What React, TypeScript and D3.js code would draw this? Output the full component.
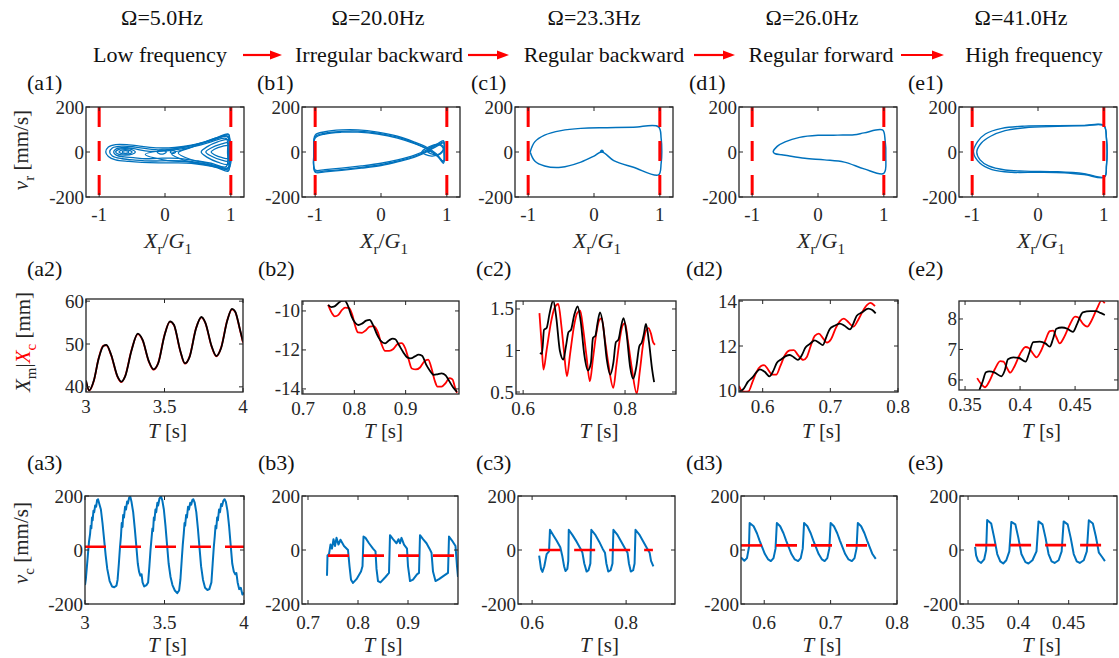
import React from 'react';
import * as d3 from 'd3';

type Pt = [number, number];

// ---------------- header text ----------------
const freqLabels = ['Ω=5.0Hz', 'Ω=20.0Hz', 'Ω=23.3Hz', 'Ω=26.0Hz', 'Ω=41.0Hz'];
const regimeLabels = ['Low frequency', 'Irregular backward', 'Regular backward', 'Regular forward', 'High frequency'];
const panelLetters = ['a', 'b', 'c', 'd', 'e'];

// ---------------- row 1: phase portraits (X_r/G_1, v_r) ----------------
const phaseXTicks = [-1, 0, 1];
const velTicks = [-200, 0, 200];
const clearanceLines = [-1, 1];

const a1Loop1: Pt[] = [[-0.9,0],[-0.86,22],[-0.75,33],[-0.55,32],[-0.35,25],[-0.1,18],[0.15,20],[0.4,30],[0.6,45],[0.8,65],[0.96,80],[0.98,30],[0.98,-30],[0.96,-85],[0.8,-70],[0.6,-58],[0.4,-50],[0.15,-48],[-0.1,-48],[-0.35,-46],[-0.55,-42],[-0.75,-35],[-0.86,-20]];
const a1Loop2: Pt[] = [[-0.84,0],[-0.8,18],[-0.65,26],[-0.45,22],[-0.2,12],[0.05,10],[0.3,22],[0.55,38],[0.75,55],[0.95,70],[0.97,0],[0.95,-75],[0.75,-62],[0.55,-50],[0.3,-40],[0.05,-38],[-0.2,-40],[-0.45,-36],[-0.65,-30],[-0.8,-18]];
const a1Loop3: Pt[] = [[-0.78,0],[-0.74,14],[-0.62,20],[-0.48,15],[-0.3,5],[-0.1,3],[0.2,12],[0.5,28],[0.7,45],[0.93,60],[0.95,0],[0.93,-65],[0.7,-50],[0.5,-40],[0.2,-28],[-0.1,-28],[-0.3,-30],[-0.48,-25],[-0.62,-22],[-0.74,-14]];
const a1Small1: Pt[] = [[-0.75,0],[-0.7,12],[-0.6,15],[-0.5,10],[-0.45,0],[-0.5,-10],[-0.6,-14],[-0.7,-11]];
const a1Small2: Pt[] = [[-0.7,0],[-0.66,8],[-0.6,10],[-0.53,6],[-0.5,0],[-0.53,-7],[-0.6,-9],[-0.66,-7]];
const a1Small3: Pt[] = [[-0.65,0],[-0.62,5],[-0.58,5],[-0.55,0],[-0.58,-5],[-0.62,-5]];
const a1Small4: Pt[] = [[-0.12,0],[-0.08,8],[-0.02,8],[0.02,0],[-0.02,-8],[-0.08,-8]];
const a1Small5: Pt[] = [[0.08,0],[0.1,5],[0.14,5],[0.16,0],[0.14,-5],[0.1,-5]];
const a1Right1: Pt[] = [[0.55,0],[0.65,25],[0.8,45],[0.96,55],[0.97,0],[0.96,-55],[0.8,-45],[0.65,-25]];
const a1Right2: Pt[] = [[0.62,0],[0.7,18],[0.85,35],[0.96,40],[0.97,-5],[0.96,-40],[0.85,-35],[0.7,-18]];
const a1Right3: Pt[] = [[0.7,0],[0.75,12],[0.87,25],[0.97,28],[0.97,-28],[0.87,-25],[0.75,-12]];
const a1Fan1: Pt[] = [[0.1,-8],[0.3,12],[0.5,32],[0.7,55],[0.9,74],[0.97,78],[0.98,0],[0.97,-80],[0.9,-76],[0.7,-62],[0.5,-50],[0.3,-38]];
const a1Fan2: Pt[] = [[0.2,-4],[0.4,20],[0.6,42],[0.8,62],[0.96,70],[0.97,-72],[0.8,-62],[0.6,-47],[0.4,-34]];
const a1Fan3: Pt[] = [[-0.3,-10],[0,8],[0.35,25],[0.65,48],[0.95,66],[0.96,-68],[0.65,-55],[0.35,-44],[0,-36]];

const b1Loop1: Pt[] = [[-1.0,75],[-0.85,90],[-0.6,98],[-0.35,98],[-0.05,88],[0.25,70],[0.5,45],[0.7,20],[0.85,-10],[0.95,-45],[0.96,0],[0.95,50],[0.85,35],[0.7,10],[0.5,-15],[0.25,-35],[0,-50],[-0.3,-62],[-0.6,-72],[-0.85,-78],[-1.0,-80],[-1.02,0]];
const b1Loop2: Pt[] = [[-1.0,68],[-0.85,84],[-0.6,92],[-0.35,93],[-0.05,84],[0.25,66],[0.5,41],[0.7,15],[0.85,-15],[0.95,-50],[0.96,0],[0.95,45],[0.85,30],[0.7,5],[0.5,-20],[0.25,-40],[0,-56],[-0.3,-68],[-0.6,-78],[-0.85,-84],[-1.0,-86],[-1.02,0]];
const b1Loop3: Pt[] = [[-1.0,62],[-0.85,80],[-0.6,88],[-0.35,88],[-0.05,80],[0.25,62],[0.5,38],[0.7,12],[0.85,-18],[0.95,-40],[0.96,0],[0.95,40],[0.85,26],[0.7,2],[0.5,-24],[0.25,-44],[0,-60],[-0.3,-72],[-0.6,-82],[-0.85,-88],[-1.0,-90],[-1.02,0]];
const b1Curl1: Pt[] = [[0.62,0],[0.72,22],[0.88,35],[0.95,20],[0.9,-5],[0.78,-18],[0.68,-12]];
const b1Curl2: Pt[] = [[0.7,5],[0.78,25],[0.9,30],[0.95,10],[0.88,-12],[0.78,-10]];

const c1Curve: Pt[] = [[-0.97,0],[-0.9,45],[-0.75,75],[-0.5,95],[-0.2,105],[0.2,108],[0.6,110],[0.98,112],[1.02,60],[1.03,0],[1.02,-50],[0.98,-102],[0.6,-68],[0.3,-38],[0.12,0],[0.0,-18],[-0.2,-45],[-0.5,-68],[-0.75,-62],[-0.9,-40],[-0.97,0]];
const c1Dot: Pt[] = [[0.1,2],[0.12,8],[0.14,2]];

const d1Curve: Pt[] = [[-0.68,0],[-0.62,25],[-0.5,45],[-0.28,65],[0,74],[0.3,75],[0.55,77],[0.7,85],[0.98,98],[1.02,50],[1.03,-20],[1.0,-95],[0.7,-75],[0.4,-45],[0.1,-35],[-0.2,-28],[-0.45,-17],[-0.55,-12],[-0.65,-8]];

const e1Loop1: Pt[] = [[-0.98,0],[-0.92,45],[-0.8,80],[-0.55,105],[-0.2,115],[0.3,117],[0.7,118],[1.0,118],[1.04,60],[1.05,0],[1.04,-60],[1.01,-112],[0.7,-100],[0.4,-92],[0,-90],[-0.4,-90],[-0.7,-78],[-0.88,-50]];
const e1Loop2: Pt[] = [[-0.93,0],[-0.86,40],[-0.72,70],[-0.5,95],[-0.2,108],[0.3,114],[0.7,117],[1.0,117],[1.04,60],[1.05,0],[1.04,-60],[1.01,-110],[0.7,-96],[0.3,-88],[-0.2,-85],[-0.5,-80],[-0.75,-62],[-0.88,-35]];

// ---------------- row 2: displacement (T, X_m black / X_c red) ----------------
const a2Ticks = { x: [3, 3.5, 4], y: [40, 50, 60] };
const a2Black: Pt[] = [[3.0,41.5],[3.02,39.2],[3.05,41.5],[3.08,46.5],[3.11,49.5],[3.13,49.8],[3.16,47.5],[3.2,42.5],[3.225,41.2],[3.25,42.5],[3.29,48.5],[3.33,52.4],[3.36,51],[3.4,46],[3.43,44.1],[3.46,45.5],[3.5,52],[3.535,55.3],[3.56,54.5],[3.6,48.5],[3.63,45.5],[3.66,47],[3.7,53.5],[3.735,56.3],[3.76,55],[3.8,49.5],[3.83,47.2],[3.86,49],[3.9,55.5],[3.93,58.2],[3.95,57.6],[3.98,53.5],[4.0,50.5]];
const a2Red: Pt[] = [[3.0,41.3],[3.02,39.1],[3.05,41.4],[3.08,46.6],[3.11,49.6],[3.13,49.7],[3.16,47.4],[3.2,42.4],[3.225,41.1],[3.25,42.6],[3.29,48.6],[3.33,52.3],[3.36,50.9],[3.4,45.9],[3.43,44.0],[3.46,45.6],[3.5,52.1],[3.535,55.2],[3.56,54.4],[3.6,48.4],[3.63,45.4],[3.66,47.1],[3.7,53.6],[3.735,56.2],[3.76,54.9],[3.8,49.4],[3.83,47.1],[3.86,49.1],[3.9,55.6],[3.93,58.1],[3.95,57.5],[3.98,53.4],[4.0,50.3]];

const b2Ticks = { x: [0.7, 0.8, 0.9], y: [-14, -12, -10] };
const b2Black: Pt[] = [[0.749,-9.69],[0.755,-9.8],[0.76,-9.78],[0.768,-9.62],[0.775,-9.48],[0.781,-9.47],[0.787,-9.7],[0.795,-10.3],[0.802,-10.62],[0.808,-10.72],[0.815,-10.65],[0.823,-10.5],[0.83,-10.46],[0.836,-10.7],[0.845,-11.25],[0.852,-11.55],[0.86,-11.66],[0.868,-11.5],[0.875,-11.42],[0.88,-11.45],[0.887,-11.75],[0.895,-12.1],[0.903,-12.38],[0.91,-12.43],[0.918,-12.33],[0.925,-12.24],[0.932,-12.3],[0.94,-12.75],[0.947,-13.05],[0.955,-13.28],[0.962,-13.25],[0.97,-13.2],[0.978,-13.3],[0.985,-13.6],[0.992,-13.9],[1.0,-14.15]];
const b2Red: Pt[] = [[0.749,-9.69],[0.756,-10.1],[0.762,-10.28],[0.769,-10.2],[0.776,-9.95],[0.782,-9.83],[0.79,-9.85],[0.796,-10.2],[0.802,-10.8],[0.807,-11.1],[0.815,-11.12],[0.822,-11.0],[0.83,-10.8],[0.838,-10.78],[0.846,-11.1],[0.853,-11.7],[0.86,-12.05],[0.868,-12.05],[0.876,-11.95],[0.884,-11.7],[0.892,-11.65],[0.899,-11.9],[0.906,-12.5],[0.912,-12.95],[0.92,-13.0],[0.928,-12.9],[0.936,-12.6],[0.944,-12.5],[0.95,-12.9],[0.957,-13.6],[0.962,-13.88],[0.97,-13.88],[0.978,-13.7],[0.985,-13.45],[0.991,-13.5],[0.996,-13.9],[1.0,-14.2]];

const c2Ticks = { x: [0.6, 0.8], y: [0.5, 1, 1.5] };
const c2Black: Pt[] = [[0.633,0.97],[0.637,0.96],[0.641,1.25],[0.646,1.27],[0.652,1.45],[0.659,1.6],[0.665,1.4],[0.672,1.0],[0.679,0.89],[0.684,1.05],[0.689,1.22],[0.694,1.25],[0.7,1.42],[0.707,1.53],[0.713,1.35],[0.72,0.95],[0.727,0.76],[0.733,0.85],[0.737,1.15],[0.742,1.18],[0.746,1.33],[0.751,1.46],[0.757,1.3],[0.764,0.9],[0.771,0.71],[0.777,0.85],[0.782,1.1],[0.787,1.13],[0.792,1.28],[0.797,1.39],[0.803,1.2],[0.81,0.8],[0.816,0.66],[0.822,0.8],[0.828,1.05],[0.833,1.1],[0.837,1.2],[0.841,1.32],[0.847,1.1],[0.853,0.78],[0.857,0.62]];
const c2Red: Pt[] = [[0.632,1.45],[0.636,1.1],[0.64,0.77],[0.646,1.0],[0.655,1.35],[0.662,1.52],[0.669,1.56],[0.675,1.3],[0.68,1.0],[0.686,0.69],[0.692,0.95],[0.7,1.3],[0.706,1.45],[0.712,1.48],[0.718,1.25],[0.724,0.95],[0.731,0.63],[0.737,0.9],[0.744,1.22],[0.749,1.36],[0.754,1.39],[0.76,1.15],[0.767,0.85],[0.777,0.55],[0.783,0.82],[0.79,1.15],[0.795,1.3],[0.8,1.33],[0.806,1.1],[0.813,0.8],[0.823,0.48],[0.829,0.75],[0.836,1.1],[0.841,1.24],[0.846,1.27],[0.851,1.2],[0.855,1.1],[0.859,1.07]];

const d2Ticks = { x: [0.6, 0.7, 0.8], y: [10, 12, 14] };
const d2Black: Pt[] = [[0.566,9.97],[0.572,10.1],[0.578,10.4],[0.585,10.6],[0.59,10.8],[0.596,10.96],[0.603,10.85],[0.61,10.65],[0.615,10.85],[0.621,11.25],[0.627,11.4],[0.634,11.55],[0.64,11.6],[0.646,11.5],[0.652,11.38],[0.658,11.6],[0.663,11.92],[0.67,12.1],[0.677,12.25],[0.683,12.15],[0.689,12.04],[0.694,12.4],[0.699,12.75],[0.706,12.9],[0.714,13.0],[0.721,12.9],[0.729,12.74],[0.734,13.0],[0.739,13.35],[0.747,13.5],[0.756,13.67],[0.762,13.6],[0.767,13.45]];
const d2Red: Pt[] = [[0.565,10.22],[0.569,10.0],[0.573,9.97],[0.579,9.98],[0.585,10.4],[0.591,10.85],[0.597,11.1],[0.602,11.15],[0.608,10.95],[0.614,10.72],[0.62,10.72],[0.626,11.1],[0.633,11.6],[0.64,11.8],[0.646,11.82],[0.652,11.6],[0.66,11.38],[0.665,11.5],[0.671,12.0],[0.677,12.45],[0.683,12.55],[0.689,12.35],[0.695,12.15],[0.701,12.3],[0.708,12.8],[0.714,13.1],[0.72,13.22],[0.727,13.05],[0.734,12.86],[0.74,13.1],[0.747,13.5],[0.754,13.82],[0.759,13.92],[0.766,13.78]];

const e2Ticks = { x: [0.35, 0.4, 0.45], y: [6, 7, 8] };
const e2Black: Pt[] = [[0.363,5.67],[0.366,5.95],[0.369,6.25],[0.372,6.28],[0.377,6.24],[0.383,6.12],[0.386,6.3],[0.389,6.68],[0.394,6.74],[0.399,6.72],[0.405,6.6],[0.408,6.85],[0.412,7.24],[0.418,7.26],[0.423,7.2],[0.427,7.09],[0.43,7.35],[0.433,7.68],[0.438,7.72],[0.443,7.68],[0.448,7.58],[0.452,7.85],[0.457,8.22],[0.464,8.26],[0.469,8.26],[0.473,8.2],[0.477,8.13]];
const e2Red: Pt[] = [[0.361,6.06],[0.365,5.85],[0.368,5.76],[0.372,5.95],[0.377,6.35],[0.382,6.62],[0.385,6.6],[0.388,6.4],[0.391,6.24],[0.395,6.45],[0.4,6.85],[0.405,7.08],[0.408,7.05],[0.412,6.85],[0.415,6.74],[0.419,6.95],[0.423,7.3],[0.427,7.6],[0.43,7.62],[0.433,7.4],[0.436,7.2],[0.44,7.4],[0.445,7.8],[0.45,8.08],[0.453,8.05],[0.457,7.85],[0.461,7.75],[0.465,7.95],[0.47,8.35],[0.474,8.6],[0.477,8.52]];

// ---------------- row 3: contact velocity (T, v_c) ----------------
const a3Blue: Pt[] = [[3.0,-130],[3.005,-110],[3.015,-40],[3.025,30],[3.032,60],[3.036,90],[3.04,80],[3.044,120],[3.048,110],[3.053,145],[3.058,140],[3.064,165],[3.07,160],[3.076,185],[3.082,188],[3.088,175],[3.1,150],[3.11,100],[3.12,40],[3.13,-20],[3.14,-70],[3.155,-115],[3.17,-135],[3.184,-138],[3.198,-132],[3.205,-110],[3.213,-50],[3.22,10],[3.226,50],[3.231,100],[3.236,85],[3.24,130],[3.245,120],[3.252,160],[3.258,150],[3.265,180],[3.27,172],[3.278,195],[3.285,197],[3.292,180],[3.303,140],[3.313,80],[3.322,20],[3.332,-50],[3.34,-80],[3.348,-95],[3.356,-90],[3.362,-120],[3.372,-135],[3.387,-130],[3.397,-120],[3.405,-60],[3.412,0],[3.418,40],[3.424,80],[3.428,70],[3.433,120],[3.437,110],[3.443,150],[3.448,140],[3.455,175],[3.46,165],[3.468,190],[3.478,198],[3.486,185],[3.496,150],[3.506,90],[3.516,20],[3.526,-50],[3.538,-100],[3.55,-130],[3.565,-150],[3.58,-160],[3.592,-150],[3.6,-110],[3.608,-40],[3.615,20],[3.621,60],[3.626,100],[3.63,90],[3.636,130],[3.641,120],[3.648,160],[3.654,150],[3.662,175],[3.668,168],[3.675,185],[3.681,188],[3.69,175],[3.7,140],[3.71,80],[3.72,10],[3.73,-60],[3.742,-110],[3.755,-140],[3.77,-148],[3.782,-145],[3.795,-120],[3.803,-50],[3.81,10],[3.816,50],[3.821,90],[3.826,80],[3.831,120],[3.836,110],[3.843,150],[3.849,140],[3.856,170],[3.862,163],[3.87,182],[3.878,188],[3.886,178],[3.896,145],[3.906,90],[3.916,20],[3.926,-50],[3.936,-80],[3.945,-90],[3.952,-85],[3.96,-120],[3.97,-145],[3.98,-140],[3.99,-165],[4.0,-158]];
const a3Contact: Pt[] = [[3.0,12],[4.0,12]];

const b3Blue: Pt[] = [[0.738,-95],[0.739,-20],[0.742,-15],[0.745,20],[0.748,5],[0.751,40],[0.754,15],[0.757,45],[0.761,20],[0.765,38],[0.772,15],[0.78,0],[0.783,-60],[0.786,-110],[0.79,-122],[0.797,-108],[0.806,-80],[0.809,-60],[0.811,50],[0.815,45],[0.822,25],[0.83,5],[0.835,-5],[0.837,-70],[0.84,-115],[0.845,-120],[0.855,-100],[0.862,-85],[0.864,55],[0.87,40],[0.877,25],[0.881,40],[0.884,25],[0.887,45],[0.892,20],[0.898,5],[0.9,-60],[0.904,-115],[0.91,-110],[0.918,-90],[0.922,-85],[0.924,55],[0.93,40],[0.937,25],[0.943,5],[0.947,-10],[0.95,-80],[0.955,-115],[0.962,-108],[0.972,-95],[0.98,-85],[0.982,50],[0.988,35],[0.995,15],[0.998,-60],[1.0,-100]];
const b3Contact: Pt[] = [[0.740,-21],[0.996,-21]];

const c3Blue: Pt[] = [[0.615,-21],[0.619,-70],[0.622,-81],[0.626,-60],[0.631,-15],[0.636,-5],[0.638,75],[0.645,55],[0.652,35],[0.66,10],[0.664,-20],[0.668,-60],[0.671,-78],[0.675,-70],[0.677,-40],[0.678,75],[0.686,55],[0.695,30],[0.703,5],[0.707,-10],[0.711,-50],[0.716,-80],[0.72,-75],[0.724,-50],[0.726,75],[0.735,55],[0.743,30],[0.75,5],[0.755,-10],[0.758,-50],[0.762,-80],[0.767,-75],[0.771,-50],[0.773,75],[0.782,55],[0.79,30],[0.798,5],[0.803,-10],[0.806,-50],[0.81,-80],[0.815,-75],[0.818,-50],[0.82,75],[0.829,55],[0.837,30],[0.845,5],[0.85,-10],[0.853,-40],[0.858,-61]];
const c3Contact: Pt[] = [[0.615,0],[0.857,0]];

const d3Blue: Pt[] = [[0.565,-28],[0.57,-40],[0.574,-30],[0.577,10],[0.578,100],[0.584,88],[0.589,62],[0.593,35],[0.597,10],[0.601,-15],[0.606,-35],[0.61,-41],[0.614,-30],[0.617,5],[0.619,100],[0.624,88],[0.629,62],[0.633,35],[0.637,10],[0.641,-15],[0.646,-35],[0.651,-41],[0.655,-30],[0.658,5],[0.66,100],[0.665,88],[0.67,62],[0.674,35],[0.678,10],[0.682,-15],[0.687,-35],[0.691,-41],[0.695,-30],[0.698,5],[0.7,100],[0.705,88],[0.71,62],[0.714,35],[0.718,10],[0.722,-15],[0.727,-35],[0.732,-41],[0.736,-30],[0.739,5],[0.741,100],[0.746,88],[0.751,62],[0.755,35],[0.759,10],[0.763,-15],[0.768,-33]];
const d3Contact: Pt[] = [[0.565,17],[0.768,17]];

const e3Blue: Pt[] = [[0.357,12],[0.358,-20],[0.36,-40],[0.363,-48],[0.366,-35],[0.368,0],[0.369,111],[0.373,98],[0.376,45],[0.379,-15],[0.382,-42],[0.385,-50],[0.388,-38],[0.391,-5],[0.393,104],[0.397,95],[0.4,45],[0.403,-15],[0.407,-45],[0.41,-50],[0.414,-38],[0.418,-5],[0.42,106],[0.424,95],[0.427,45],[0.43,-15],[0.433,-42],[0.436,-48],[0.44,-38],[0.443,-5],[0.445,106],[0.449,95],[0.452,45],[0.455,-15],[0.458,-42],[0.461,-48],[0.465,-38],[0.468,-5],[0.47,110],[0.474,98],[0.477,50],[0.48,-10],[0.483,-25],[0.486,-41]];
const e3Contact: Pt[] = [[0.357,18],[0.486,18]];

// ---------------- rendering ----------------
const BLUE = '#0072BD';
const RED = '#FF0000';
const FONT = '"Liberation Serif", "Times New Roman", serif';

interface Series { data: Pt[]; color: string; width: number; dash?: string; curve?: d3.CurveFactory; }
interface PanelProps {
  id: string; x0: number; y0: number; x1: number; y1: number;
  xDomain: [number, number]; yDomain: [number, number];
  xTicks: number[]; yTicks: number[]; series: Series[]; xLabelGap: number;
}

function fmt(v: number): string {
  return String(v);
}

function Panel(p: PanelProps) {
  const xs = d3.scaleLinear().domain(p.xDomain).range([p.x0, p.x1]);
  const ys = d3.scaleLinear().domain(p.yDomain).range([p.y1, p.y0]);
  const tl = 4;
  return (
    <g>
      <defs>
        <clipPath id={p.id}>
          <rect x={p.x0} y={p.y0} width={p.x1 - p.x0} height={p.y1 - p.y0} />
        </clipPath>
      </defs>
      <g clipPath={`url(#${p.id})`}>
        {p.series.map((s, i) => {
          const gen = d3.line<Pt>().x(d => xs(d[0])).y(d => ys(d[1])).curve(s.curve ?? d3.curveLinear);
          return (
            <path key={i} d={gen(s.data) ?? ''} fill="none" stroke={s.color} strokeWidth={s.width}
              strokeDasharray={s.dash} strokeLinejoin="round" />
          );
        })}
      </g>
      <rect x={p.x0} y={p.y0} width={p.x1 - p.x0} height={p.y1 - p.y0} fill="none" stroke="#262626" strokeWidth={1.3} />
      {p.xTicks.map((t, i) => {
        const x = xs(t);
        return (
          <g key={'xt' + i}>
            <line x1={x} x2={x} y1={p.y1} y2={p.y1 - tl} stroke="#262626" strokeWidth={1} />
            <line x1={x} x2={x} y1={p.y0} y2={p.y0 + tl} stroke="#262626" strokeWidth={1} />
            <text x={x} y={p.y1 + p.xLabelGap} textAnchor="middle" fontSize={19} fontFamily={FONT} fill="#262626">{fmt(t)}</text>
          </g>
        );
      })}
      {p.yTicks.map((t, i) => {
        const y = ys(t);
        return (
          <g key={'yt' + i}>
            <line x1={p.x0} x2={p.x0 + tl} y1={y} y2={y} stroke="#262626" strokeWidth={1} />
            <line x1={p.x1} x2={p.x1 - tl} y1={y} y2={y} stroke="#262626" strokeWidth={1} />
            <text x={p.x0 - 2} y={y + 6.5} textAnchor="end" fontSize={19} fontFamily={FONT} fill="#262626">{fmt(t)}</text>
          </g>
        );
      })}
    </g>
  );
}

function Arrow({ x1, x2, y }: { x1: number; x2: number; y: number }) {
  return (
    <g>
      <line x1={x1} x2={x2 - 9} y1={y} y2={y} stroke={RED} strokeWidth={2.2} />
      <polygon points={`${x2},${y} ${x2 - 12},${y - 4.5} ${x2 - 12},${y + 4.5}`} fill={RED} />
    </g>
  );
}

export default function App() {
  const curveClosed = d3.curveCatmullRomClosed.alpha(0.5);
  const curveOpen = d3.curveCatmullRom.alpha(0.5);
  const mono = d3.curveMonotoneX;

  const blueLoop = (data: Pt[], w = 1.3): Series => ({ data, color: BLUE, width: w, curve: curveClosed });
  const clear = (x: number): Series => ({ data: [[x, 200], [x, -200]], color: RED, width: 3, dash: '20 14' });

  const row1Left = [86, 302, 515, 739, 959];
  const row1Series: Series[][] = [
    [blueLoop(a1Loop1), blueLoop(a1Loop2), blueLoop(a1Loop3), blueLoop(a1Small1), blueLoop(a1Small2), blueLoop(a1Small3), blueLoop(a1Small4), blueLoop(a1Small5), blueLoop(a1Right1), blueLoop(a1Right2), blueLoop(a1Right3), blueLoop(a1Fan1, 1.1), blueLoop(a1Fan2, 1.1), blueLoop(a1Fan3, 1.1)],
    [blueLoop(b1Loop1), blueLoop(b1Loop2), blueLoop(b1Loop3), blueLoop(b1Curl1), blueLoop(b1Curl2)],
    [{ data: c1Curve, color: BLUE, width: 1.5, curve: curveOpen }, blueLoop(c1Dot, 1.5)],
    [blueLoop(d1Curve, 1.5)],
    [blueLoop(e1Loop1, 1.4), blueLoop(e1Loop2, 1.4)],
  ];

  const row2 = [
    { x0: 86, x1: 243, y0: 299, y1: 392, xd: [3, 4] as [number, number], yd: [38.8, 60.5] as [number, number], t: a2Ticks, k: a2Black, r: a2Red },
    { x0: 302, x1: 459, y0: 301, y1: 394, xd: [0.698, 1.004] as [number, number], yd: [-14.26, -9.49] as [number, number], t: b2Ticks, k: b2Black, r: b2Red },
    { x0: 516, x1: 676, y0: 301, y1: 394, xd: [0.586, 0.9] as [number, number], yd: [0.476, 1.596] as [number, number], t: c2Ticks, k: c2Black, r: c2Red },
    { x0: 739, x1: 898, y0: 300, y1: 392, xd: [0.565, 0.8] as [number, number], yd: [9.95, 14.05] as [number, number], t: d2Ticks, k: d2Black, r: d2Red },
    { x0: 959, x1: 1118, y0: 301, y1: 390, xd: [0.3445, 0.489] as [number, number], yd: [5.67, 8.59] as [number, number], t: e2Ticks, k: e2Black, r: e2Red },
  ];

  const row3 = [
    { x0: 85, x1: 244, xd: [3, 4] as [number, number], t: a2Ticks.x, b: a3Blue, c: a3Contact },
    { x0: 302, x1: 458, xd: [0.688, 1.0] as [number, number], t: b2Ticks.x, b: b3Blue, c: b3Contact },
    { x0: 518, x1: 675, xd: [0.57, 0.904] as [number, number], t: c2Ticks.x, b: c3Blue, c: c3Contact },
    { x0: 741, x1: 897, xd: [0.565, 0.8] as [number, number], t: d2Ticks.x, b: d3Blue, c: d3Contact },
    { x0: 960, x1: 1117, xd: [0.342, 0.498] as [number, number], t: e2Ticks.x, b: e3Blue, c: e3Contact },
  ];

  const freqCx = [162, 378, 594, 812, 1021];
  const regimeCx = [160, 379, 604, 821, 1034];
  const arrows = [[243, 282], [468, 509], [694, 735], [901, 944]];
  const lab1X = [27, 257, 471, 689, 908];
  const lab23X = [27, 258, 476, 686, 908];

  return (
    <svg width={1119} height={658} style={{ position: 'absolute', left: 0, top: 0, background: '#fff' }}
      fontFamily={FONT}>
      <rect x={0} y={0} width={1119} height={658} fill="#fff" />
      {freqLabels.map((s, i) => (
        <text key={'f' + i} x={freqCx[i]} y={25} textAnchor="middle" fontSize={22} fill="#111">{s}</text>
      ))}
      {regimeLabels.map((s, i) => (
        <text key={'r' + i} x={regimeCx[i]} y={62} textAnchor="middle" fontSize={22} fill="#111">{s}</text>
      ))}
      {arrows.map((a, i) => <Arrow key={'a' + i} x1={a[0]} x2={a[1]} y={55} />)}

      {panelLetters.map((l, i) => (
        <g key={'pl' + i}>
          <text x={lab1X[i]} y={90} fontSize={22} fill="#111">({l}1)</text>
          <text x={lab23X[i]} y={276} fontSize={22} fill="#111">({l}2)</text>
          <text x={lab23X[i]} y={470} fontSize={22} fill="#111">({l}3)</text>
        </g>
      ))}

      {/* Row 1 */}
      {row1Left.map((x0, i) => (
        <g key={'r1' + i}>
          <Panel id={'c1_' + i} x0={x0} x1={x0 + 158} y0={107} y1={197} xDomain={[-1.2, 1.2]} yDomain={[-200, 200]}
            xTicks={phaseXTicks} yTicks={velTicks} xLabelGap={24}
            series={[...row1Series[i], ...clearanceLines.map(clear)]} />
          <text x={x0 + 82} y={248} textAnchor="middle" fontSize={22} fill="#262626">
            <tspan fontStyle="italic">X</tspan>
            <tspan fontSize={15} dy={6}>r</tspan>
            <tspan dy={-6}>/</tspan>
            <tspan fontStyle="italic">G</tspan>
            <tspan fontSize={15} dy={6}>1</tspan>
          </text>
        </g>
      ))}

      {/* Row 2 */}
      {row2.map((r, i) => (
        <g key={'r2' + i}>
          <Panel id={'c2_' + i} x0={r.x0} x1={r.x1} y0={r.y0} y1={r.y1} xDomain={r.xd} yDomain={r.yd}
            xTicks={r.t.x} yTicks={r.t.y} xLabelGap={21}
            series={[
              { data: r.r, color: RED, width: 1.8, curve: mono },
              { data: r.k, color: '#000', width: 1.8, curve: mono },
            ]} />
          <text x={(r.x0 + r.x1) / 2 + 3} y={438} textAnchor="middle" fontSize={21} fill="#262626">
            <tspan fontStyle="italic">T</tspan> [s]
          </text>
        </g>
      ))}

      {/* Row 3 */}
      {row3.map((r, i) => (
        <g key={'r3' + i}>
          <Panel id={'c3_' + i} x0={r.x0} x1={r.x1} y0={496} y1={604} xDomain={r.xd} yDomain={[-200, 200]}
            xTicks={r.t} yTicks={velTicks} xLabelGap={25}
            series={[
              { data: r.b, color: BLUE, width: 2, curve: d3.curveLinear },
              { data: r.c, color: RED, width: 2.6, dash: '21 14' },
            ]} />
          <text x={(r.x0 + r.x1) / 2 + 3} y={652} textAnchor="middle" fontSize={21} fill="#262626">
            <tspan fontStyle="italic">T</tspan> [s]
          </text>
        </g>
      ))}

      {/* Y axis labels */}
      <text transform="translate(28,150) rotate(-90)" textAnchor="middle" fontSize={21} fill="#262626">
        <tspan fontStyle="italic">v</tspan>
        <tspan fontSize={15} dy={6}>r</tspan>
        <tspan dy={-6}> [mm/s]</tspan>
      </text>
      <text transform="translate(30,342) rotate(-90)" textAnchor="middle" fontSize={21} fill="#262626">
        <tspan fontStyle="italic">X</tspan>
        <tspan fontSize={15} dy={6}>m</tspan>
        <tspan dy={-6}>|</tspan>
        <tspan fontStyle="italic" fill={RED}>X</tspan>
        <tspan fontSize={15} dy={6} fill={RED}>c</tspan>
        <tspan dy={-6}> [mm]</tspan>
      </text>
      <text transform="translate(28,543) rotate(-90)" textAnchor="middle" fontSize={21} fill="#262626">
        <tspan fontStyle="italic">v</tspan>
        <tspan fontSize={15} dy={6}>c</tspan>
        <tspan dy={-6}>  [mm/s]</tspan>
      </text>
    </svg>
  );
}
